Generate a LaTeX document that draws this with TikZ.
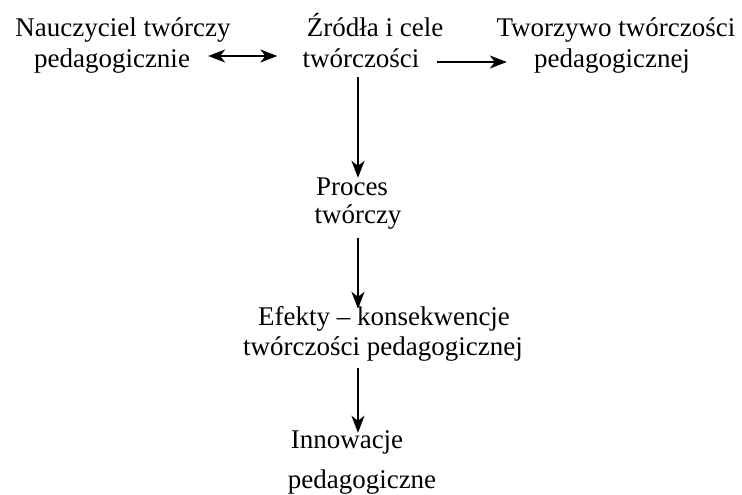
\documentclass[tikz,border=0pt]{standalone}
\usepackage{fontspec}
\setmainfont{Liberation Serif}
\usetikzlibrary{arrows.meta}
\begin{document}
\begin{tikzpicture}[x=1pt,y=1pt,
  lbl/.style={anchor=base,inner sep=0pt,text height=19pt,text depth=6pt,
    font=\fontsize{27}{30}\selectfont},
  tip/.tip={Stealth[length=17pt,width=13pt,inset=5pt]},
  arr/.style={line width=1.8pt,-tip},
  dbl/.style={line width=1.8pt,tip-tip}]
\useasboundingbox (0,0) rectangle (742,-495);
% top row
\node[lbl] (a1) at (123,-37) {Nauczyciel twórczy};
\node[lbl] (a2) at (112,-67) {pedagogicznie};
\node[lbl] (b1) at (375,-37) {Źródła i cele};
\node[lbl] (b2) at (361,-67) {twórczości};
\node[lbl] (c1) at (616,-37) {Tworzywo twórczości};
\node[lbl] (c2) at (612,-67) {pedagogicznej};
% column
\node[lbl] (d1) at (352,-195) {Proces};
\node[lbl] (d2) at (358,-223) {twórczy};
\node[lbl] (e1) at (384,-325) {Efekty – konsekwencje};
\node[lbl] (e2) at (383,-355) {twórczości pedagogicznej};
\node[lbl] (f1) at (347,-448) {Innowacje};
\node[lbl] (f2) at (362,-488) {pedagogiczne};
\coordinate (col) at (358,0);
% connectors
\draw[dbl] ([xshift=18pt,yshift=4.5pt]a2.east) -- ([xshift=-25pt,yshift=4.5pt]b2.west);
\draw[arr] ([xshift=17pt,yshift=-1.5pt]b2.east) -- ([xshift=-27pt,yshift=-1.5pt]c2.west);
\draw[arr,shorten <=4pt,shorten >=-2pt] (b2.south -| col) -- (d1.north -| col);
\draw[arr,shorten <=9pt,shorten >=-3pt] (d2.south -| col) -- (e1.north -| col);
\draw[arr,shorten <=7pt,shorten >=-4pt] (e2.south -| col) -- (f1.north -| col);
\end{tikzpicture}
\end{document}
